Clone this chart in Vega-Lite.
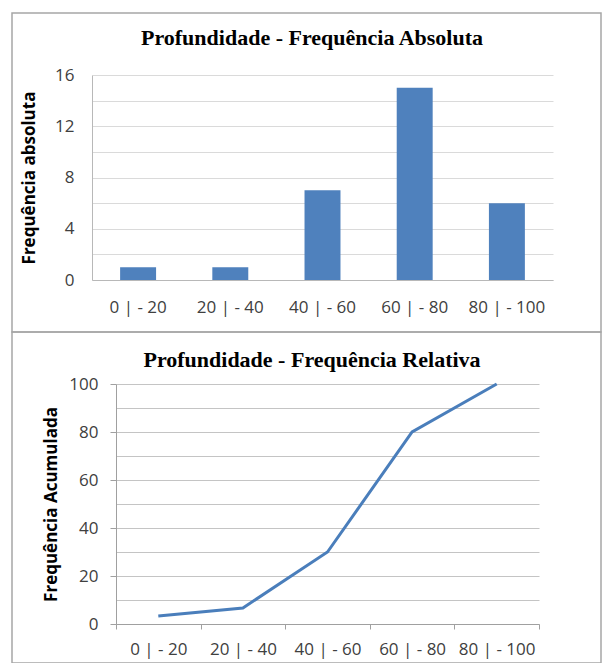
{
  "$schema": "https://vega.github.io/schema/vega-lite/v6.json",
  "background": "white",
  "padding": {"left": 11, "top": 12, "right": 3, "bottom": 1},
  "spacing": 0,
  "bounds": "flush",
  "config": {
    "view": {"stroke": "#a6a6a6", "strokeWidth": 1.5},
    "axis": {
      "labelFont": "Open Sans",
      "labelFontSize": 17,
      "labelColor": "#404040",
      "titleFont": "Open Sans",
      "titleFontSize": 17,
      "titleFontWeight": "bold",
      "titleColor": "#000000",
      "labelOverlap": false,
      "labelAngle": 0
    }
  },
  "vconcat": [
    {
      "width": 589,
      "height": 319,
      "title": {
        "text": "Profundidade - Frequência Absoluta",
        "font": "Liberation Serif",
        "fontSize": 22,
        "fontWeight": "bold",
        "color": "#000000",
        "anchor": "middle",
        "baseline": "middle",
        "offset": -47,
        "dx": 5.5
      },
      "data": {
        "values": [
          {"classe": "0 | - 20", "freq": 1},
          {"classe": "20 | - 40", "freq": 1},
          {"classe": "40 | - 60", "freq": 7},
          {"classe": "60 | - 80", "freq": 15},
          {"classe": "80 | - 100", "freq": 6}
        ]
      },
      "mark": {"type": "bar", "color": "#4f81bd"},
      "encoding": {
        "x": {
          "field": "classe",
          "type": "nominal",
          "sort": null,
          "scale": {"range": [80, 541], "paddingInner": 0.61, "paddingOuter": 0.305},
          "axis": {
            "title": null,
            "orient": "bottom",
            "offset": -52,
            "ticks": false,
            "labelPadding": 19,
            "domainColor": "#b8b8b8",
            "grid": false
          }
        },
        "y": {
          "field": "freq",
          "type": "quantitative",
          "scale": {"domain": [0, 16], "range": [267, 62], "nice": false},
          "axis": {
            "title": "Frequência absoluta",
            "orient": "left",
            "offset": -80,
            "values": [0, 2, 4, 6, 8, 10, 12, 14, 16],
            "labelExpr": "datum.value % 4 === 0 ? datum.label : ''",
            "ticks": false,
            "labelPadding": 18,
            "domain": true,
            "domainColor": "#b8b8b8",
            "grid": true,
            "gridColor": "#dadada",
            "titleX": -63,
            "titleBaseline": "middle"
          }
        }
      }
    },
    {
      "width": 589,
      "height": 331,
      "title": {
        "text": "Profundidade - Frequência Relativa",
        "font": "Liberation Serif",
        "fontSize": 22,
        "fontWeight": "bold",
        "color": "#000000",
        "anchor": "middle",
        "baseline": "middle",
        "offset": -50,
        "dx": 5.5
      },
      "data": {
        "values": [
          {"classe": "0 | - 20", "acumulada": 3.33},
          {"classe": "20 | - 40", "acumulada": 6.67},
          {"classe": "40 | - 60", "acumulada": 30},
          {"classe": "60 | - 80", "acumulada": 80},
          {"classe": "80 | - 100", "acumulada": 100}
        ]
      },
      "mark": {"type": "line", "color": "#4a7ebb", "strokeWidth": 3},
      "encoding": {
        "x": {
          "field": "classe",
          "type": "nominal",
          "sort": null,
          "bandPosition": 0.5,
          "scale": {"type": "band", "range": [104, 527], "paddingInner": 0, "paddingOuter": 0},
          "axis": {
            "title": null,
            "orient": "bottom",
            "offset": -39,
            "ticks": true,
            "tickBand": "extent",
            "tickSize": 5,
            "tickColor": "#a0a0a0",
            "labelPadding": 12,
            "domainColor": "#a0a0a0",
            "grid": false
          }
        },
        "y": {
          "field": "acumulada",
          "type": "quantitative",
          "scale": {"domain": [0, 100], "range": [292, 52], "nice": false},
          "axis": {
            "title": "Frequência Acumulada",
            "orient": "left",
            "offset": -104,
            "values": [0, 10, 20, 30, 40, 50, 60, 70, 80, 90, 100],
            "labelExpr": "datum.value % 20 === 0 ? datum.label : ''",
            "ticks": true,
            "tickSize": 6,
            "tickColor": "#a0a0a0",
            "tickOpacity": {"condition": {"test": "datum.value % 20 !== 0", "value": 0}, "value": 1},
            "labelPadding": 12,
            "domain": true,
            "domainColor": "#a0a0a0",
            "grid": true,
            "gridColor": "#c4c4c4",
            "titleX": -65,
            "titleBaseline": "middle"
          }
        }
      }
    }
  ]
}
